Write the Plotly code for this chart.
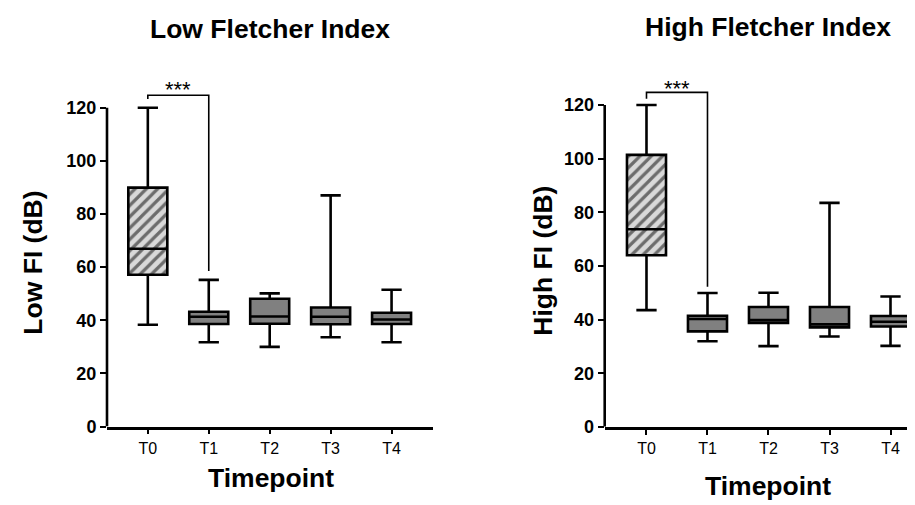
import plotly.graph_objects as go

# ---------------- data ----------------
timepoints = ["T0", "T1", "T2", "T3", "T4"]

low_lower = [38.3, 31.7, 30.0, 33.6, 31.7]
low_q1 = [57.1, 38.6, 38.7, 38.5, 38.6]
low_median = [66.9, 41.3, 41.4, 41.3, 40.3]
low_q3 = [89.9, 43.2, 48.1, 44.8, 42.8]
low_upper = [120.0, 55.2, 50.1, 87.0, 51.5]

high_lower = [43.5, 31.9, 30.1, 33.7, 30.2]
high_q1 = [64.0, 35.6, 38.7, 37.1, 37.4]
high_median = [73.7, 40.2, 39.8, 38.2, 39.2]
high_q3 = [101.4, 41.4, 44.7, 44.7, 41.3]
high_upper = [120.0, 49.9, 50.0, 83.5, 48.6]

y_ticks = [0, 20, 40, 60, 80, 100, 120]
panel_titles = ["Low Fletcher Index", "High Fletcher Index"]
y_titles = ["Low FI (dB)", "High FI (dB)"]
x_title = "Timepoint"

sig_pair = ["T0", "T1"]
sig_label = "***"
sig_top = [124.7, 124.7]
sig_gap = [3.3, 2.3]
sig_text_y = [126.7, 126.1]

# ---------------- style ----------------
FONT = "Liberation Sans, Arial, sans-serif"
GRAY = "#808080"
HATCH_BG = "#d9d9d9"
LW = 2.6
BOX_W = 0.64

W, H = 915, 505

panels = [
    dict(lower=low_lower, q1=low_q1, med=low_median, q3=low_q3, upper=low_upper,
         xdom=[99 / W, 425 / W], xrange=[-0.67, 4.68],
         ydom=[(H - 427) / H, (H - 74.6) / H]),
    dict(lower=high_lower, q1=high_q1, med=high_median, q3=high_q3, upper=high_upper,
         xdom=[596.7 / W, 913 / W], xrange=[-0.685, 4.5],
         ydom=[(H - 427.3) / H, (H - 71.6) / H]),
]

fig = go.Figure()
shapes = []
annotations = []

for i, p in enumerate(panels):
    xa = "x" if i == 0 else "x2"
    ya = "y" if i == 0 else "y2"

    # hatched background for T0 box
    fig.add_trace(go.Bar(
        x=[timepoints[0]], y=[p["q3"][0] - p["q1"][0]], base=[p["q1"][0]],
        width=BOX_W, xaxis=xa, yaxis=ya, showlegend=False, hoverinfo="skip",
        marker=dict(color=HATCH_BG, line=dict(width=0),
                    pattern=dict(shape="/", fgcolor="black", bgcolor=HATCH_BG,
                                 size=8, solidity=0.4)),
    ))
    # T0 box outline (transparent)
    fig.add_trace(go.Box(
        x=[timepoints[0]], q1=[p["q1"][0]], median=[p["med"][0]], q3=[p["q3"][0]],
        lowerfence=[p["lower"][0]], upperfence=[p["upper"][0]],
        width=BOX_W, whiskerwidth=0.52, boxpoints=False,
        fillcolor="rgba(0,0,0,0)", line=dict(color="black", width=LW),
        xaxis=xa, yaxis=ya, showlegend=False, hoverinfo="skip",
    ))
    # T1..T4 gray boxes
    fig.add_trace(go.Box(
        x=timepoints[1:], q1=p["q1"][1:], median=p["med"][1:], q3=p["q3"][1:],
        lowerfence=p["lower"][1:], upperfence=p["upper"][1:],
        width=BOX_W, whiskerwidth=0.52, boxpoints=False,
        fillcolor=GRAY, line=dict(color="black", width=LW),
        xaxis=xa, yaxis=ya, showlegend=False, hoverinfo="skip",
    ))
    # significance bracket
    i0 = timepoints.index(sig_pair[0])
    i1 = timepoints.index(sig_pair[1])
    fig.add_trace(go.Scatter(
        x=[sig_pair[0], sig_pair[0], sig_pair[1], sig_pair[1]],
        y=[p["upper"][i0] + sig_gap[i], sig_top[i], sig_top[i], p["upper"][i1] + sig_gap[i]],
        mode="lines", line=dict(color="black", width=1.6),
        xaxis=xa, yaxis=ya, showlegend=False, hoverinfo="skip",
    ))
    annotations.append(dict(
        x=(i0 + i1) / 2, y=sig_text_y[i], xref=xa, yref=ya, text=sig_label,
        showarrow=False, xanchor="center", yanchor="middle",
        font=dict(family=FONT, size=22, color="black"),
    ))

    # y-axis line (only up to the last tick)
    shapes.append(dict(
        type="line", xref=f"{xa} domain", yref=ya, x0=0, x1=0,
        y0=y_ticks[0], y1=y_ticks[-1], line=dict(color="black", width=LW),
    ))

    axis_x = dict(
        domain=p["xdom"], range=p["xrange"], type="category",
        categoryorder="array", categoryarray=timepoints,
        showline=True, linecolor="black", linewidth=LW,
        ticks="outside", ticklen=5, tickwidth=2, tickcolor="black",
        tickfont=dict(family=FONT, size=16, color="black"),
        showgrid=False, zeroline=False, anchor=ya,
    )
    axis_y = dict(
        domain=p["ydom"], range=[0, 130], tickvals=y_ticks,
        showline=False, ticks="outside", ticklen=6, tickwidth=2, tickcolor="black",
        tickfont=dict(family=FONT, size=18, color="black", weight="bold"),
        showgrid=False, zeroline=False, anchor=xa,
    )
    if i == 0:
        fig.update_layout(xaxis=axis_x, yaxis=axis_y)
    else:
        fig.update_layout(xaxis2=axis_x, yaxis2=axis_y)

# titles
title_font = dict(family=FONT, size=26.5, color="black", weight="bold")
annotations += [
    dict(x=262 / W, y=(H - 21.5) / H, xref="paper", yref="paper", text=panel_titles[0],
         showarrow=False, xanchor="center", yanchor="middle", font=title_font),
    dict(x=760 / W, y=(H - 19.8) / H, xref="paper", yref="paper", text=panel_titles[1],
         showarrow=False, xanchor="center", yanchor="middle", font=title_font),
    dict(x=262.5 / W, y=(H - 479.8) / H, xref="paper", yref="paper", text=x_title,
         showarrow=False, xanchor="center", yanchor="middle", font=title_font),
    dict(x=760 / W, y=(H - 487.8) / H, xref="paper", yref="paper", text=x_title,
         showarrow=False, xanchor="center", yanchor="middle", font=title_font),
    dict(x=24.8 / W, y=(H - 260) / H, xref="paper", yref="paper", text=y_titles[0],
         showarrow=False, xanchor="center", yanchor="middle", textangle=-90, font=title_font),
    dict(x=534.8 / W, y=(H - 258) / H, xref="paper", yref="paper", text=y_titles[1],
         showarrow=False, xanchor="center", yanchor="middle", textangle=-90, font=title_font),
]

fig.update_layout(
    width=W, height=H, autosize=False,
    margin=dict(l=0, r=0, t=0, b=0),
    paper_bgcolor="white", plot_bgcolor="white",
    showlegend=False, barmode="overlay", boxmode="overlay",
    shapes=shapes, annotations=annotations,
)

fig.write_html("out.html")
